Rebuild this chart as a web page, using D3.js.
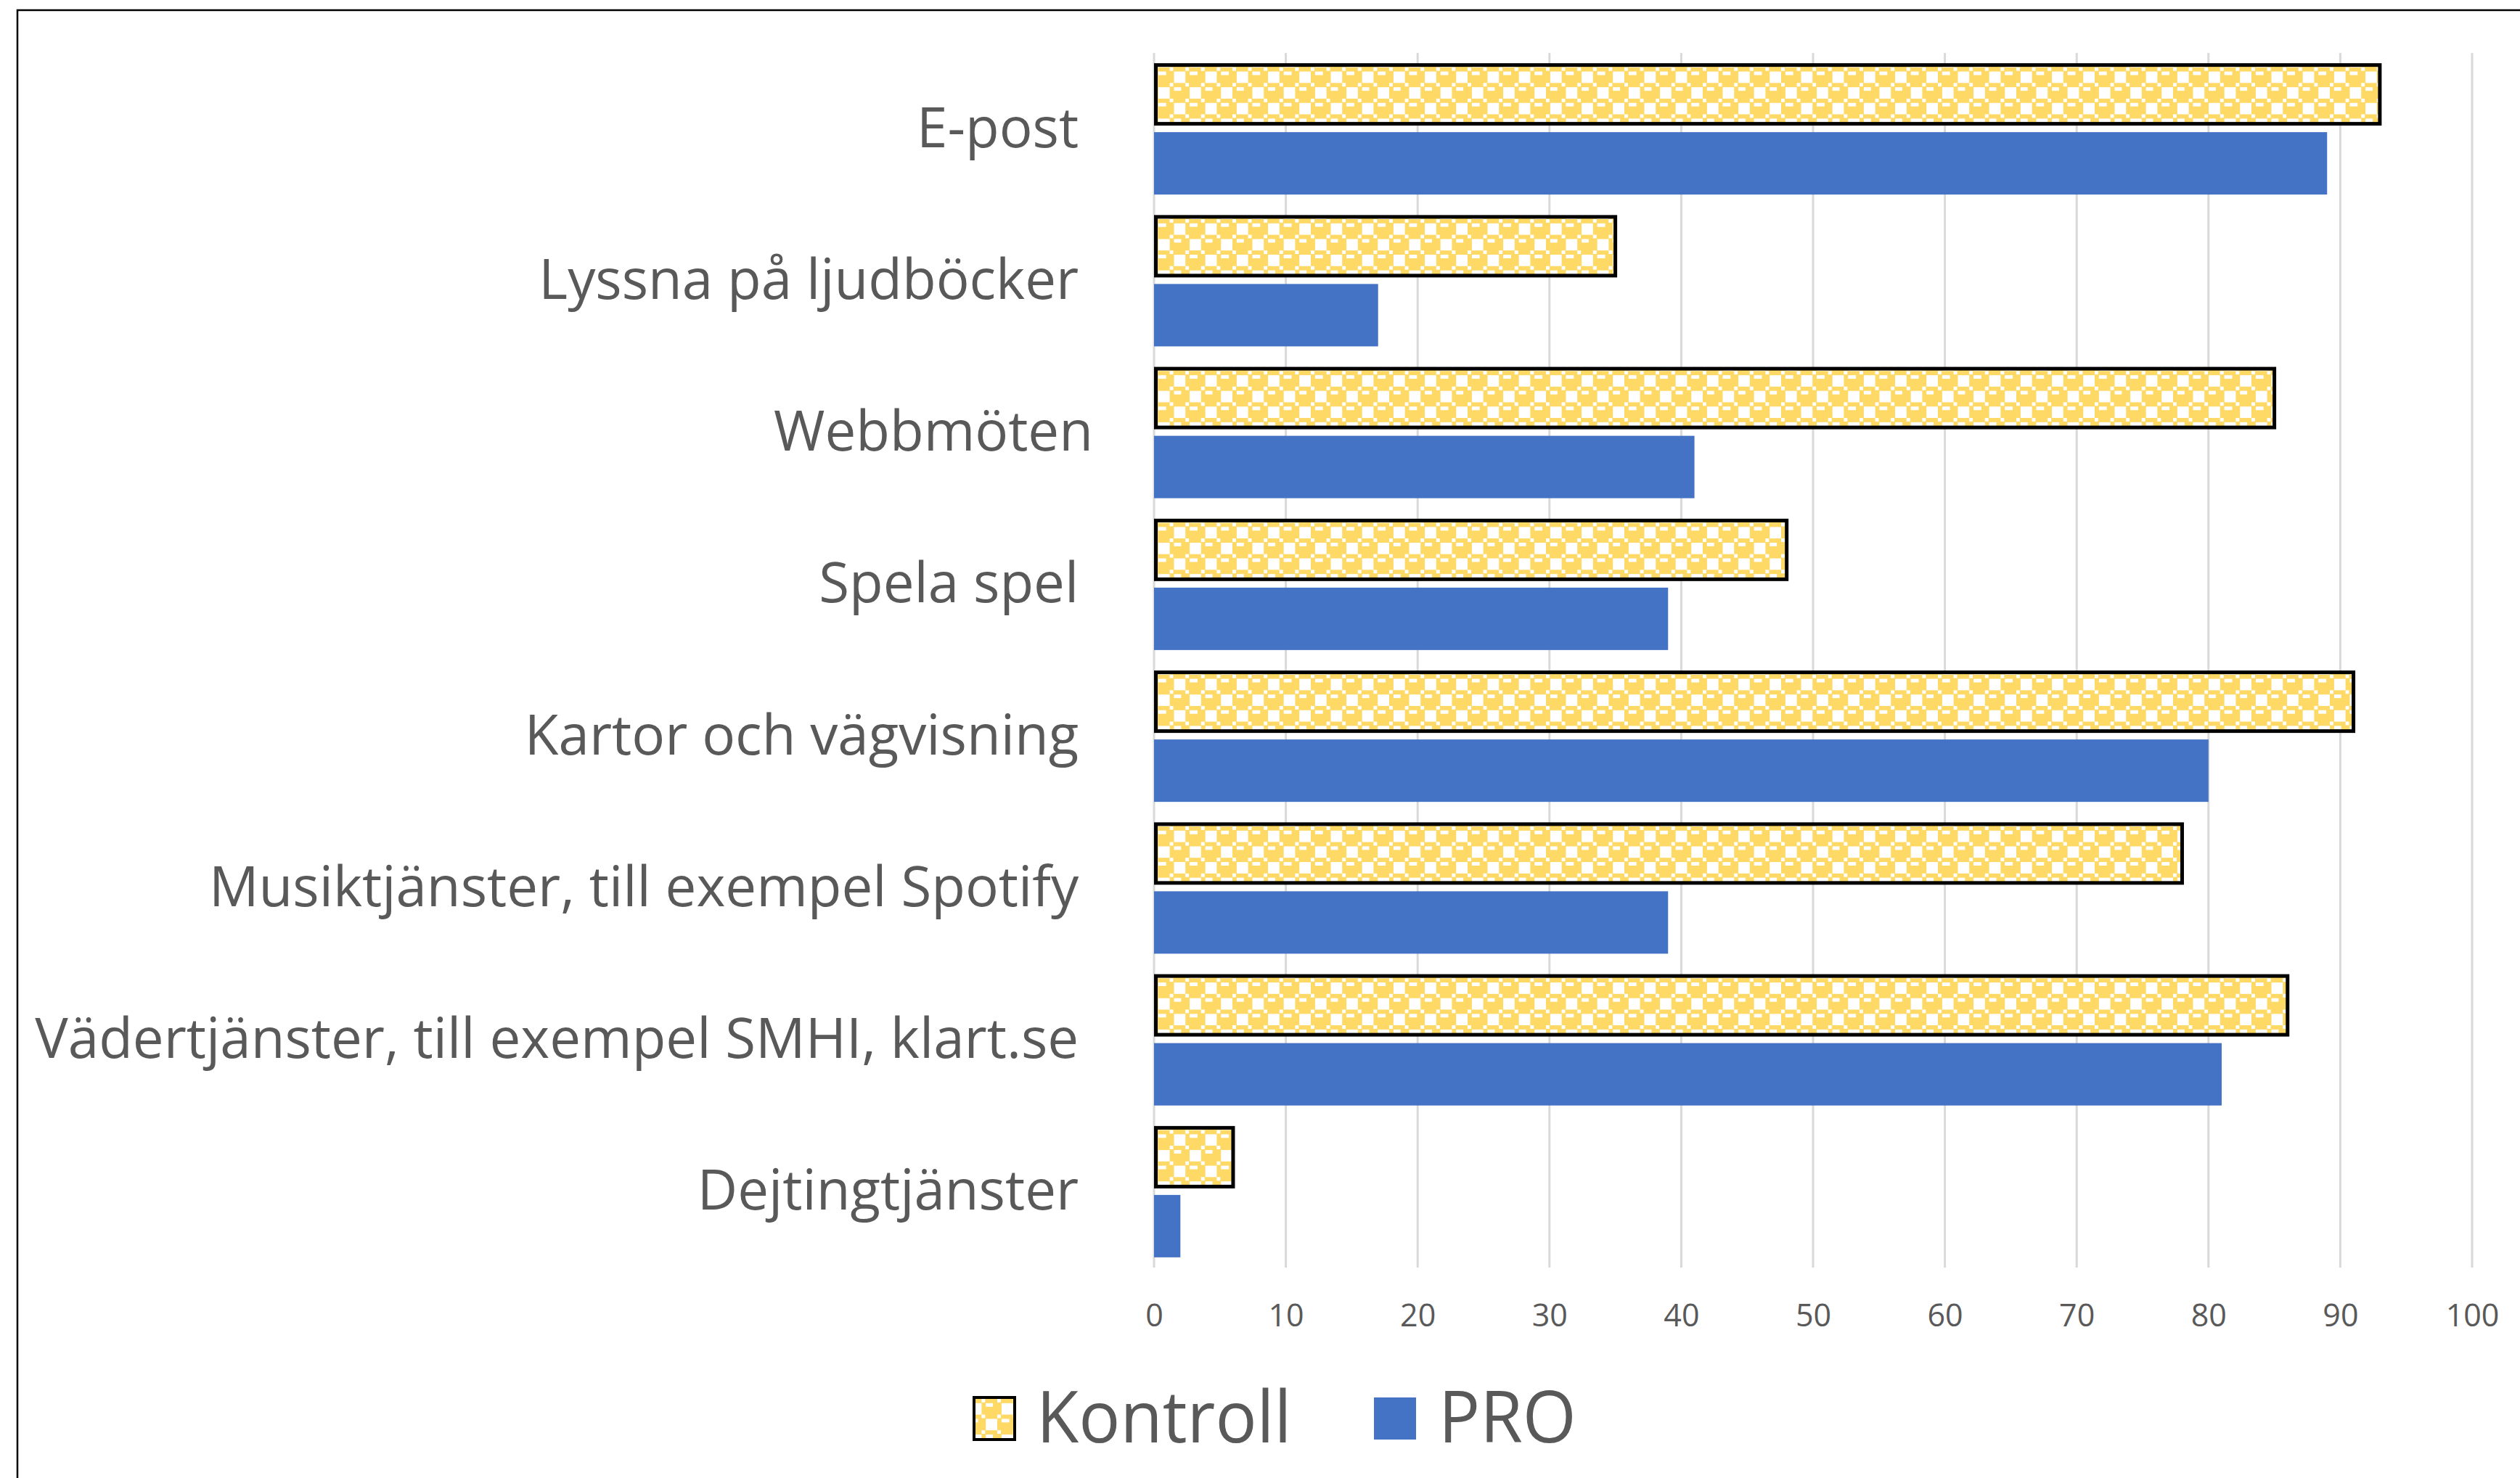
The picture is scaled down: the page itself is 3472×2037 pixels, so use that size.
<!DOCTYPE html>
<html>
<head>
<meta charset="utf-8">
<script src="https://cdn.jsdelivr.net/npm/d3@7"></script>
<style>
  html, body { margin: 0; padding: 0; background: #fff; }
  svg { display: block; }
  text { font-family: "Open Sans", "Noto Sans", sans-serif; fill: #595959; font-weight: 500; }
  .cat { white-space: pre; }
</style>
</head>
<body>
<div id="chart"></div>
<script>
// --- data ---
const categories = [
    "E-post ",
    "Lyssna på ljudböcker ",
    "Webbmöten",
    "Spela spel ",
    "Kartor och vägvisning ",
    "Musiktjänster, till exempel Spotify ",
    "Vädertjänster, till exempel SMHI, klart.se ",
    "Dejtingtjänster "
];
const series = ["Kontroll", "PRO"];
const kontrollValues = [93, 35, 85, 48, 91, 78, 86, 6];
const proValues = [89, 17, 41, 39, 80, 39, 81, 2];
const xTicks = [0, 10, 20, 30, 40, 50, 60, 70, 80, 90, 100];

// 8x8 "sphere" fill used for the Kontroll bars (1 = yellow)
const sphereBits = [
    "01110111",
    "10011000",
    "11111000",
    "11111000",
    "01110111",
    "10001001",
    "10001111",
    "10001111"
];

const W = 3472, H = 2037;
const YELLOW = "#FFD966", BLUE = "#4472C4", GRID = "#D9D9D9";

const svg = d3.select("#chart").append("svg")
    .attr("width", W).attr("height", H);

// pattern
const cell = 5.4;
const pat = svg.append("defs").append("pattern")
    .attr("id", "sphere")
    .attr("patternUnits", "userSpaceOnUse")
    .attr("width", cell * 8).attr("height", cell * 8)
    .attr("x", 1590).attr("y", 92);
pat.append("rect").attr("width", cell * 8).attr("height", cell * 8).attr("fill", "#fff");
sphereBits.forEach((row, r) => {
    row.split("").forEach((b, c) => {
        if (b === "1") {
            pat.append("rect")
                .attr("x", c * cell).attr("y", r * cell)
                .attr("width", cell + 0.05).attr("height", cell + 0.05)
                .attr("fill", YELLOW)
                .attr("shape-rendering", "crispEdges");
        }
    });
});

// frame
svg.append("path")
    .attr("d", `M24,${H} L24,14 L${W},14`)
    .attr("fill", "none").attr("stroke", "#000").attr("stroke-width", 2.5);

// scales
const x = d3.scaleLinear().domain([0, 100]).range([1590, 3406]);
const y = d3.scaleBand().domain(categories).range([73, 1747])
    .paddingInner(0.135).paddingOuter(0.0675);
const ySub = d3.scaleBand().domain(series).range([0, y.bandwidth()])
    .paddingInner(0.095).paddingOuter(0);

// gridlines
svg.append("g").selectAll("line").data(xTicks).join("line")
    .attr("x1", d => x(d)).attr("x2", d => x(d))
    .attr("y1", 73).attr("y2", 1747)
    .attr("stroke", GRID).attr("stroke-width", 3);

// axis labels (x)
const xAxis = svg.append("g").attr("transform", "translate(0,1747)")
    .call(d3.axisBottom(x).tickValues(xTicks).tickSize(0).tickPadding(0));
xAxis.select(".domain").remove();
xAxis.selectAll("text")
    .attr("dy", null).attr("y", 81)
    .attr("font-size", 43)
    .attr("font-family", "\"Open Sans\", \"Noto Sans\", sans-serif")
    .attr("font-weight", 500)
    .attr("fill", "#595959");

// bars
const rows = categories.map((c, i) => ({ cat: c, Kontroll: kontrollValues[i], PRO: proValues[i] }));
const groups = svg.append("g").selectAll("g").data(rows).join("g")
    .attr("transform", d => `translate(0,${y(d.cat)})`);

groups.append("rect")
    .attr("x", x(0) + 2.5)
    .attr("y", ySub("Kontroll") + 2.5)
    .attr("width", d => x(d.Kontroll) - x(0) - 2.5)
    .attr("height", ySub.bandwidth() - 5)
    .attr("fill", "url(#sphere)")
    .attr("stroke", "#000").attr("stroke-width", 5);

groups.append("rect")
    .attr("x", x(0))
    .attr("y", ySub("PRO"))
    .attr("width", d => x(d.PRO) - x(0))
    .attr("height", ySub.bandwidth())
    .attr("fill", BLUE);

// category labels
const catFont = 76;
const labelRight = 1506;
const cats = svg.append("g").selectAll("text").data(categories).join("text")
    .attr("class", "cat")
    .attr("text-anchor", "end")
    .attr("font-size", catFont)
    .text(d => d);
let maxW = 0;
cats.each(function () { maxW = Math.max(maxW, this.getComputedTextLength()); });
const k = (labelRight - 48) / maxW;
cats.attr("transform", d => `translate(${labelRight},${y(d) + y.bandwidth() / 2 + 25}) scale(${k},1)`);

// legend
const legend = svg.append("g");
const legendItems = [
    { name: series[0], fill: "url(#sphere)", stroke: "#000", sx: 1340, tx: 1428 },
    { name: series[1], fill: BLUE, stroke: "none", sx: 1893, tx: 1982 }
];
legendItems.forEach(it => {
    legend.append("rect")
        .attr("x", it.sx + (it.stroke === "none" ? 0 : 2))
        .attr("y", 1926)
        .attr("width", it.stroke === "none" ? 58 : 56)
        .attr("height", 58)
        .attr("fill", it.fill)
        .attr("stroke", it.stroke).attr("stroke-width", 4);
    legend.append("text")
        .attr("font-size", 98)
        .attr("transform", `translate(${it.tx},1988) scale(0.97,1)`)
        .text(it.name);
});
</script>
</body>
</html>
